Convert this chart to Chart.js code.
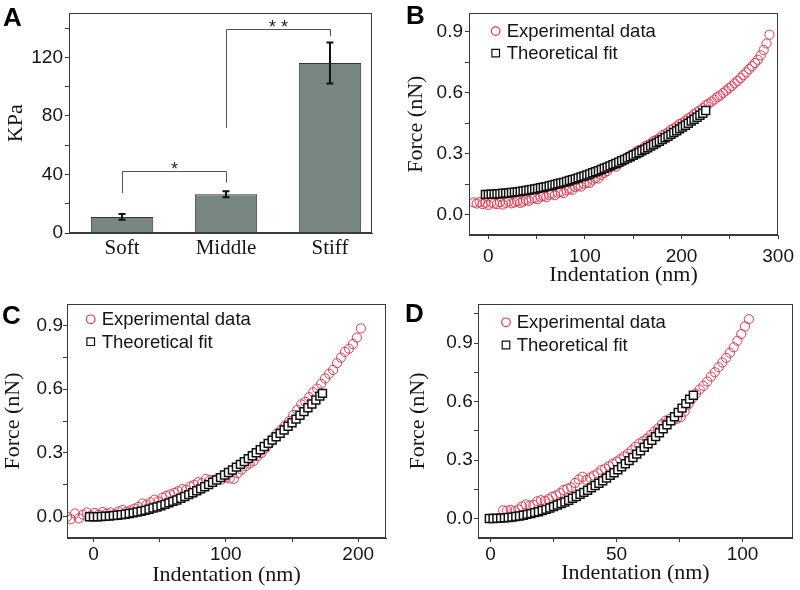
<!DOCTYPE html>
<html><head><meta charset="utf-8">
<script src="https://cdn.jsdelivr.net/npm/chart.js@4.4.1/dist/chart.umd.min.js"></script>
<style>
html,body{margin:0;padding:0;background:#fff;}
body{width:800px;height:590px;position:relative;overflow:hidden;}
.pane{position:absolute;}
.lbl{position:absolute;font:bold 26px "Liberation Sans",Arial,sans-serif;line-height:26px;color:#000;}
</style></head><body>
<div class="pane" style="left:0;top:0;width:400px;height:290px"><canvas id="cA"></canvas></div>
<div class="pane" style="left:400px;top:0;width:400px;height:290px"><canvas id="cB"></canvas></div>
<div class="pane" style="left:0;top:290px;width:400px;height:300px"><canvas id="cC"></canvas></div>
<div class="pane" style="left:400px;top:290px;width:400px;height:300px"><canvas id="cD"></canvas></div>
<div class="lbl" style="left:3px;top:4px">A</div>
<div class="lbl" style="left:406px;top:2px">B</div>
<div class="lbl" style="left:2px;top:302px">C</div>
<div class="lbl" style="left:405px;top:300px">D</div>
<script>
// ---------- Panel A data ----------
const catLabels = ['Soft', 'Middle', 'Stiff'];
const kpaMean = [11, 26.5, 116.2];
const kpaErr = [1.9, 2.0, 14.0];
const kpaTicks = [0, 20, 40, 60, 80, 100, 120, 140];
const kpaMajor = [0, 40, 80, 120];
const sigFrom = [1, 2];
const sigTo = [2, 3];
const sigLevel = [42.5, 139.6];
const sigLeftEnd = [27.3, 71.8];
const sigRightEnd = [34.5, 134.4];
const sigText = ['*', '* *'];

// ---------- Panel B data ----------
const bExpX = [-15,-12,-9,-6,-3,0,3,6,9,12,15,18,21,24,27,30,33,36,39,42,45,48,51,54,57,60,63,66,69,72,75,78,81,84,87,90,93,96,99,102,105,108,111,114,117,120,123,126,129,132,135,138,141,144,147,150,153,156,159,162,165,168,171,174,177,180,183,186,189,192,195,198,201,204,207,210,213,216,219,222,225,228,231,234,237,240,243,246,249,252,255,258,261,264,267,270,273,276,279,282,285,288,291];
const bExpY = [0.060,0.055,0.062,0.052,0.058,0.048,0.060,0.055,0.052,0.062,0.050,0.058,0.064,0.056,0.060,0.066,0.058,0.064,0.072,0.068,0.078,0.082,0.076,0.088,0.092,0.086,0.098,0.102,0.096,0.108,0.112,0.106,0.120,0.126,0.122,0.136,0.142,0.138,0.152,0.158,0.156,0.172,0.180,0.178,0.196,0.206,0.214,0.232,0.240,0.236,0.252,0.262,0.268,0.282,0.292,0.296,0.310,0.318,0.322,0.336,0.342,0.350,0.362,0.368,0.376,0.390,0.396,0.404,0.418,0.424,0.434,0.446,0.452,0.462,0.474,0.482,0.494,0.504,0.512,0.524,0.538,0.546,0.556,0.566,0.578,0.586,0.598,0.610,0.622,0.632,0.646,0.658,0.672,0.686,0.700,0.716,0.730,0.746,0.762,0.784,0.810,0.842,0.885];
const bFitX = [-3,0,3,6,9,12,15,18,21,24,27,30,33,36,39,42,45,48,51,54,57,60,63,66,69,72,75,78,81,84,87,90,93,96,99,102,105,108,111,114,117,120,123,126,129,132,135,138,141,144,147,150,153,156,159,162,165,168,171,174,177,180,183,186,189,192,195,198,201,204,207,210,213,216,219,222,225];
const bFitY = [0.099,0.100,0.101,0.101,0.102,0.103,0.105,0.106,0.107,0.109,0.111,0.112,0.114,0.117,0.119,0.121,0.124,0.126,0.129,0.132,0.135,0.138,0.141,0.145,0.148,0.152,0.156,0.159,0.163,0.168,0.172,0.176,0.181,0.186,0.190,0.195,0.200,0.206,0.211,0.216,0.222,0.228,0.234,0.240,0.246,0.252,0.258,0.265,0.271,0.278,0.285,0.292,0.299,0.306,0.314,0.321,0.329,0.337,0.345,0.353,0.361,0.369,0.378,0.386,0.395,0.404,0.413,0.422,0.431,0.440,0.450,0.460,0.469,0.479,0.489,0.499,0.512];
const bXTicks = [0, 50, 100, 150, 200, 250, 300];
const bXMajor = [0, 100, 200, 300];

// ---------- Panel C data ----------
const cExpX = [-20,-17,-14,-11,-8,-5,-2,1,4,7,10,13,16,19,22,25,28,31,34,37,40,43,46,49,52,55,58,61,64,67,70,73,76,79,82,85,88,91,94,97,100,103,106,109,112,115,118,121,124,127,130,133,136,139,142,145,148,151,154,157,160,163,166,169,172,175,178,181,184,187,190,193,196,199,202];
const cExpY = [0.000,-0.012,0.015,-0.008,0.010,0.020,0.005,0.018,0.010,0.022,0.015,0.020,0.012,0.025,0.032,0.024,0.030,0.038,0.046,0.062,0.055,0.068,0.080,0.072,0.090,0.098,0.105,0.112,0.120,0.130,0.126,0.142,0.150,0.162,0.158,0.178,0.172,0.170,0.182,0.176,0.185,0.180,0.178,0.205,0.222,0.238,0.250,0.262,0.285,0.300,0.322,0.345,0.372,0.392,0.410,0.430,0.450,0.478,0.502,0.528,0.540,0.562,0.585,0.602,0.625,0.650,0.672,0.690,0.722,0.748,0.775,0.790,0.812,0.842,0.885];
const cFitX = [-3,0,3,6,9,12,15,18,21,24,27,30,33,36,39,42,45,48,51,54,57,60,63,66,69,72,75,78,81,84,87,90,93,96,99,102,105,108,111,114,117,120,123,126,129,132,135,138,141,144,147,150,153,156,159,162,165,168,171,173];
const cFitY = [0.000,0.000,0.000,0.001,0.002,0.003,0.005,0.007,0.009,0.012,0.015,0.018,0.022,0.026,0.030,0.035,0.041,0.046,0.052,0.058,0.065,0.072,0.079,0.087,0.095,0.104,0.113,0.122,0.131,0.141,0.151,0.162,0.173,0.184,0.196,0.208,0.220,0.233,0.246,0.259,0.273,0.287,0.301,0.315,0.330,0.345,0.360,0.376,0.392,0.408,0.425,0.442,0.459,0.477,0.494,0.512,0.530,0.549,0.567,0.580];
const cXTicks = [0, 50, 100, 150, 200];
const cXMajor = [0, 100, 200];

// ---------- Panel D data ----------
const dExpX = [5,6.5,8,9.5,11,12.5,14,15.5,17,18.5,20,21.5,23,24.5,26,27.5,29,30.5,32,33.5,35,36.5,38,39.5,41,42.5,44,45.5,47,48.5,50,51.5,53,54.5,56,57.5,59,60.5,62,63.5,65,66.5,68,69.5,71,72.5,74,75.5,77,78.5,80,81.5,83,84.5,86,87.5,89,90.5,92,93.5,95,96.5,98,99.5,101,102.5];
const dExpY = [0.042,0.040,0.044,0.038,0.046,0.062,0.072,0.066,0.070,0.088,0.094,0.090,0.100,0.112,0.118,0.130,0.146,0.152,0.160,0.182,0.200,0.214,0.198,0.210,0.220,0.232,0.248,0.256,0.268,0.280,0.292,0.304,0.318,0.332,0.350,0.368,0.384,0.396,0.410,0.428,0.446,0.462,0.484,0.502,0.510,0.506,0.512,0.520,0.548,0.584,0.616,0.640,0.662,0.680,0.702,0.728,0.750,0.776,0.800,0.824,0.850,0.878,0.912,0.946,0.985,1.022];
const dFitX = [-0.5,1,2.5,4,5.5,7,8.5,10,11.5,13,14.5,16,17.5,19,20.5,22,23.5,25,26.5,28,29.5,31,32.5,34,35.5,37,38.5,40,41.5,43,44.5,46,47.5,49,50.5,52,53.5,55,56.5,58,59.5,61,62.5,64,65.5,67,68.5,70,71.5,73,74.5,76,77.5,79,80.5];
const dFitY = [0.000,0.000,0.001,0.002,0.003,0.005,0.007,0.010,0.013,0.017,0.021,0.025,0.030,0.035,0.041,0.047,0.054,0.061,0.069,0.077,0.085,0.094,0.104,0.113,0.124,0.134,0.145,0.157,0.169,0.181,0.194,0.207,0.221,0.235,0.250,0.265,0.281,0.297,0.313,0.330,0.347,0.365,0.383,0.401,0.420,0.440,0.460,0.480,0.501,0.522,0.544,0.566,0.589,0.612,0.632];
const dXTicks = [0, 25, 50, 75, 100];
const dXMajor = [0, 50, 100];

const forceTicks = [0, 0.15, 0.3, 0.45, 0.6, 0.75, 0.9];
const forceTicksD = [0, 0.15, 0.3, 0.45, 0.6, 0.75, 0.9, 1.05];
const forceMajor = [0, 0.3, 0.6, 0.9];

// ---------- styling ----------
const SERIF = '"Liberation Serif","Times New Roman",serif';
const SANS = '"Liberation Sans",Arial,sans-serif';
const AX = '#3a3a3a';
const TXT = '#151515';
const RED = '#e8374f';

function zip(xs, ys) { return xs.map((x, i) => ({ x: x, y: ys[i] })); }
function labelFor(majors, fmt) {
  return function (v) {
    const i = majors.findIndex(m => Math.abs(m - v) < 1e-9);
    return i < 0 ? '' : fmt(majors[i], i);
  };
}

function makeScale(o) {
  return {
    type: 'linear', min: o.min, max: o.max, offset: false,
    afterBuildTicks: s => { s.ticks = o.ticks.map(v => ({ value: v })); },
    afterFit: s => { if (o.axis === 'x') s.height = o.size; else s.width = o.size; },
    grid: { display: true, offset: false, drawOnChartArea: false, drawTicks: o.drawTicks !== false,
            tickLength: o.drawTicks === false ? 0 : 4, tickColor: AX, tickWidth: 1 },
    border: { display: true, color: AX, width: 1 },
    ticks: { autoSkip: false, maxRotation: 0, minRotation: 0, padding: o.tickPad, color: TXT,
             font: o.tickFont || { family: SANS, size: 19 }, callback: o.callback },
    title: o.title ? { display: true, text: o.title, color: TXT, font: { family: SERIF, size: 22, lineHeight: 1.2 },
                       padding: o.titlePad } : { display: false }
  };
}

const framePlugin = {
  id: 'frame',
  afterDraw(chart) {
    const a = chart.chartArea, ctx = chart.ctx;
    ctx.save();
    ctx.strokeStyle = AX; ctx.lineWidth = 1;
    ctx.strokeRect(Math.round(a.left) + 0.5, Math.round(a.top) + 0.5, Math.round(a.right - a.left) - 1, Math.round(a.bottom - a.top) - 1);
    ctx.restore();
  }
};

const legendBox = {
  id: 'legendBox',
  afterDraw(chart, args, o) {
    const a = chart.chartArea, ctx = chart.ctx;
    ctx.save();
    chart.data.datasets.forEach((ds, i) => {
      const x = a.left + o.x, y = a.top + o.y + i * o.dy;
      ctx.lineWidth = 1.2;
      ctx.strokeStyle = ds.borderColor;
      ctx.fillStyle = ds.pointStyle === 'rect' ? '#fff' : 'rgba(0,0,0,0)';
      ctx.beginPath();
      if (ds.pointStyle === 'rect') { const h = 3.8; ctx.rect(x - h, y - h, 2 * h, 2 * h); }
      else ctx.arc(x, y, 4.3, 0, Math.PI * 2);
      ctx.fill(); ctx.stroke();
      ctx.fillStyle = TXT;
      ctx.font = '18.5px ' + SANS;
      ctx.textBaseline = 'middle';
      ctx.textAlign = 'left';
      ctx.fillText(ds.label, x + o.tx, y + 1);
    });
    ctx.restore();
  }
};

const errPlugin = {
  id: 'errbars',
  afterDatasetsDraw(chart) {
    const ctx = chart.ctx, meta = chart.getDatasetMeta(0), ys = chart.scales.y, xs = chart.scales.x;
    ctx.save();
    ctx.strokeStyle = '#111'; ctx.lineWidth = 2;
    meta.data.forEach((bar, i) => {
      const x = bar.x;
      const t = ys.getPixelForValue(kpaMean[i] + kpaErr[i]);
      const b = ys.getPixelForValue(kpaMean[i] - kpaErr[i]);
      ctx.beginPath();
      ctx.moveTo(x, t); ctx.lineTo(x, b);
      ctx.moveTo(x - 3.5, t); ctx.lineTo(x + 3.5, t);
      ctx.moveTo(x - 3.5, b); ctx.lineTo(x + 3.5, b);
      ctx.stroke();
    });
    // significance brackets
    ctx.strokeStyle = '#555'; ctx.lineWidth = 1;
    ctx.fillStyle = '#222';
    ctx.font = '18px ' + SANS; ctx.textAlign = 'center'; ctx.textBaseline = 'alphabetic';
    sigFrom.forEach((f, i) => {
      const x1 = Math.round(xs.getPixelForValue(f)) + 0.5, x2 = Math.round(xs.getPixelForValue(sigTo[i])) + 0.5;
      const yl = Math.round(ys.getPixelForValue(sigLevel[i])) + 0.5;
      ctx.beginPath();
      ctx.moveTo(x1, ys.getPixelForValue(sigLeftEnd[i])); ctx.lineTo(x1, yl);
      ctx.lineTo(x2, yl); ctx.lineTo(x2, ys.getPixelForValue(sigRightEnd[i]));
      ctx.stroke();
      ctx.fillText(sigText[i], (x1 + x2) / 2, yl + 3);
    });
    ctx.restore();
  }
};

const common = {
  responsive: true, maintainAspectRatio: false, animation: false, events: [],
  plugins: { legend: { display: false }, tooltip: { enabled: false } }
};

// ---------- Panel A ----------
new Chart(document.getElementById('cA'), {
  type: 'bar',
  data: { datasets: [{
    label: 'KPa',
    data: zip([1, 2, 3], kpaMean),
    backgroundColor: '#788683', borderColor: '#333', borderWidth: 1,
    barPercentage: 0.6, categoryPercentage: 1
  }] },
  options: Object.assign({}, common, {
    layout: { padding: { left: 0, top: 3, right: 28, bottom: 0 } },
    scales: {
      x: makeScale({ axis: 'x', min: 0.49, max: 3.404, ticks: [1, 2, 3], size: 57, tickPad: 3, drawTicks: false,
                     tickFont: { family: SERIF, size: 21 },
                     callback: labelFor([1, 2, 3], (v, i) => catLabels[i]) }),
      y: makeScale({ axis: 'y', min: 0, max: 150, ticks: kpaTicks, size: 69, tickPad: 2,
                     title: 'KPa', titlePad: { top: 2.8, bottom: 0 },
                     callback: labelFor(kpaMajor, v => String(v)) })
    }
  }),
  plugins: [errPlugin, framePlugin]
});

// ---------- scatter panels ----------
function scatter(id, o) {
  return new Chart(document.getElementById(id), {
    type: 'scatter',
    data: { datasets: [
      { label: 'Experimental data', data: zip(o.ex, o.ey), pointStyle: 'circle', pointRadius: 4.6, pointHoverRadius: 4.6,
        borderColor: RED, backgroundColor: 'rgba(0,0,0,0)', borderWidth: 1, order: 2 },
      { label: 'Theoretical fit', data: zip(o.fx, o.fy), pointStyle: 'rect', pointRadius: 5.6, pointHoverRadius: 5.6,
        borderColor: '#111111', backgroundColor: '#ffffff', borderWidth: 1.5, order: 1 }
    ] },
    options: Object.assign({}, common, {
      layout: { padding: o.pad },
      plugins: { legend: { display: false }, tooltip: { enabled: false }, legendBox: o.legend },
      scales: {
        x: makeScale({ axis: 'x', min: o.xmin, max: o.xmax, ticks: o.xticks, size: o.xsize, tickPad: o.xpad,
                       title: 'Indentation (nm)', titlePad: { top: 0, bottom: 0 },
                       callback: labelFor(o.xmajor, v => String(v)) }),
        y: makeScale({ axis: 'y', min: o.ymin, max: o.ymax, ticks: o.yticks, size: o.ysize, tickPad: o.ypad,
                       title: 'Force (nN)', titlePad: { top: o.ytp, bottom: 0 },
                       callback: labelFor(forceMajor, v => v.toFixed(1)) })
      }
    }),
    plugins: [framePlugin, legendBox]
  });
}

scatter('cB', { ex: bExpX, ey: bExpY, fx: bFitX, fy: bFitY,
  xmin: -20, xmax: 300, ymin: -0.1, ymax: 0.99, xticks: bXTicks, xmajor: bXMajor, yticks: forceTicks,
  pad: { left: 0, top: 3, right: 16, bottom: 1.5 }, xsize: 53.5, ysize: 69, xpad: 6, ypad: 2, ytp: 2.8,
  legend: { x: 26.7, y: 17.7, dy: 22, tx: 11 } });

scatter('cC', { ex: cExpX, ey: cExpY, fx: cFitX, fy: cFitY,
  xmin: -20, xmax: 221, ymin: -0.1, ymax: 1.0, xticks: cXTicks, xmajor: cXMajor, yticks: forceTicks,
  pad: { left: 0, top: 14, right: 14, bottom: 1.5 }, xsize: 50.5, ysize: 67, xpad: 1, ypad: 0, ytp: 0,
  legend: { x: 23.7, y: 15.3, dy: 22.4, tx: 11 } });

scatter('cD', { ex: dExpX, ey: dExpY, fx: dFitX, fy: dFitY,
  xmin: -5, xmax: 120, ymin: -0.1, ymax: 1.1, xticks: dXTicks, xmajor: dXMajor, yticks: forceTicksD,
  pad: { left: 0, top: 14, right: 4, bottom: 3.5 }, xsize: 48.5, ysize: 78, xpad: 1, ypad: 1.3, ytp: 5.1,
  legend: { x: 28, y: 18.3, dy: 22.7, tx: 10.7 } });
</script>
</body></html>
